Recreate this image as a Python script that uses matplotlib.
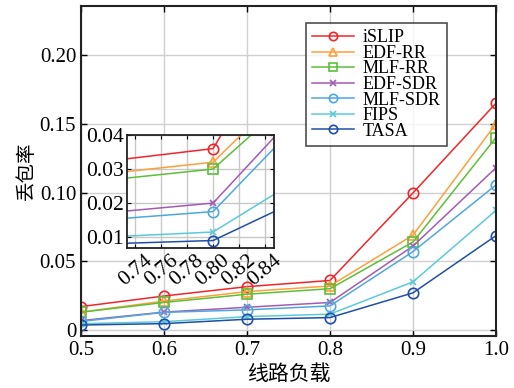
import matplotlib
matplotlib.use("Agg")
import matplotlib.pyplot as plt

plt.rcParams['font.family'] = ['Liberation Serif', 'Noto Sans CJK SC']
plt.rcParams['mathtext.fontset'] = 'stix'

load = [0.5, 0.6, 0.7, 0.8, 0.9, 1.0]

islip = [0.017, 0.0247, 0.0315, 0.036, 0.0997, 0.165]
edf_rr = [0.013, 0.021, 0.0279, 0.032, 0.069, 0.150]
mlf_rr = [0.0129, 0.020, 0.026, 0.030, 0.064, 0.140]
edf_sdr = [0.0068, 0.0130, 0.0165, 0.020, 0.061, 0.118]
mlf_sdr = [0.0062, 0.0128, 0.0146, 0.0175, 0.057, 0.1055]
fips = [0.0045, 0.006, 0.0097, 0.0115, 0.035, 0.087]
tasa = [0.0036, 0.0046, 0.0078, 0.009, 0.027, 0.0686]

names = ['iSLIP', 'EDF-RR', 'MLF-RR', 'EDF-SDR', 'MLF-SDR', 'FIPS', 'TASA']
series = [islip, edf_rr, mlf_rr, edf_sdr, mlf_sdr, fips, tasa]
colors = ['#f0262a', '#ff9f3a', '#5cbf3a', '#a35bb5', '#4ea8de', '#5bcad8', '#1f4fa8']
markers = ['o', '^', 's', 'x', 'o', 'x', 'o']

fig = plt.figure(figsize=(5.14, 3.88), dpi=100)
ax = fig.add_axes([81 / 514, 1 - 336 / 388, (496 - 81) / 514, (336 - 6) / 388])

for y, name, c, m in zip(series, names, colors, markers):
    ax.plot(load, y, color=c, marker=m, markersize=7.5 if m != 'x' else 5,
            markerfacecolor='none', markeredgewidth=1.2, linewidth=1.1, label=name)

ax.set_xlim(0.5, 1.0)
ax.set_ylim(-0.0044, 0.2357)
ax.set_xticks([0.5, 0.6, 0.7, 0.8, 0.9, 1.0])
ax.set_xticklabels(['0.5', '0.6', '0.7', '0.8', '0.9', '1.0'])
ax.set_yticks([0, 0.05, 0.10, 0.15, 0.20])
ax.set_yticklabels(['0', '0.05', '0.10', '0.15', '0.20'])
ax.tick_params(direction='in', top=True, right=True, labelsize=15, length=4, width=1)
ax.grid(True, color='#d0d0d0', linewidth=1)
for s in ax.spines.values():
    s.set_linewidth(1.5)
    s.set_color('#222222')
ax.set_xlabel('线路负载', fontsize=15, family=['Noto Sans CJK SC'], labelpad=2)
ax.set_ylabel('丢包率', fontsize=14, family=['Noto Sans CJK SC'], labelpad=2)

leg = ax.legend(loc='upper right', bbox_to_anchor=((447 - 81) / 415, (336 - 23) / 330),
                fontsize=13, frameon=True, fancybox=False, edgecolor='#222222',
                handlelength=2.3, handletextpad=0.5, labelspacing=-0.08,
                borderpad=0.35, markerscale=0.8, borderaxespad=0)
leg.get_frame().set_linewidth(1.2)

# inset zoom around load 0.8
ins = fig.add_axes([127 / 514, 1 - 248 / 388, (274 - 127) / 514, (248 - 135) / 388])
for y, c, m in zip(series, colors, markers):
    ins.plot(load, y, color=c, marker=m, markersize=7.5 if m != 'x' else 5,
             markerfacecolor='none', markeredgewidth=1.2, linewidth=1.1)
ins.set_xlim(0.7336, 0.847)
ins.set_ylim(0.0068, 0.04)
ins.set_xticks([0.74, 0.76, 0.78, 0.80, 0.82, 0.84])
ins.set_xticklabels(['0.74', '0.76', '0.78', '0.80', '0.82', '0.84'], rotation=40)
ins.set_yticks([0.01, 0.02, 0.03, 0.04])
ins.set_yticklabels(['0.01', '0.02', '0.03', '0.04'])
ins.tick_params(direction='in', top=True, right=True, labelsize=15.5, length=3, pad=2)
ins.grid(True, color='#c8c8c8', linewidth=1)
for s in ins.spines.values():
    s.set_linewidth(1.3)
    s.set_color('#222222')
for lbl in ins.get_xticklabels():
    lbl.set_horizontalalignment('center')

fig.savefig('out.png', dpi=100)
